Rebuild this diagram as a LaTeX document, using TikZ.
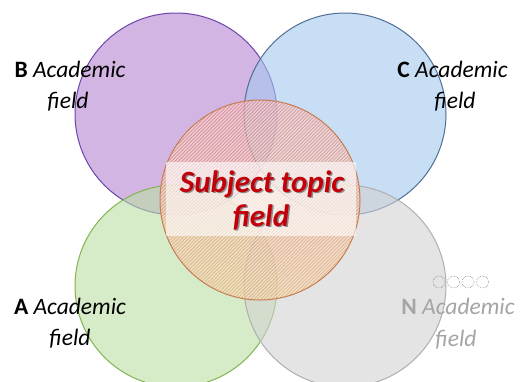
\documentclass[tikz,border=0pt]{standalone}
\usepackage{fontspec}
\setmainfont{Carlito}

\definecolor{fillB}{RGB}{183,133,210}
\definecolor{lineB}{RGB}{105,70,170}
\definecolor{fillC}{RGB}{163,200,238}
\definecolor{lineC}{RGB}{80,110,150}
\definecolor{fillA}{RGB}{188,222,163}
\definecolor{lineA}{RGB}{130,180,80}
\definecolor{fillN}{RGB}{210,210,210}
\definecolor{lineN}{RGB}{175,175,175}
\definecolor{hatchR}{RGB}{225,120,120}
\definecolor{hatchO}{RGB}{225,165,90}
\definecolor{lineR}{RGB}{200,125,85}
\definecolor{subjRed}{RGB}{195,0,10}
\definecolor{textN}{RGB}{165,165,165}

\begin{document}
\begin{tikzpicture}[x=1pt,y=-1pt]
				\tikzstyle{every node}=[align=center, inner sep=0pt, font=\fontsize{23.5}{28}\selectfont]
				\tikzstyle{field}=[fill opacity=0.6, line width=1pt]
				\tikzstyle{band}=[fill=white, fill opacity=0.6, minimum width=190pt, minimum height=74pt]
				\tikzstyle{subj}=[font=\fontsize{31}{36}\selectfont\bfseries\itshape, anchor=base]
				\tikzstyle{dotc}=[circle, draw=black!45, densely dotted, line width=0.6pt, minimum size=12pt]

				\useasboundingbox (0,0) rectangle (521,381);
				\fill[white] (0,0) rectangle (521,381);

				\filldraw[field, fill=fillB, draw=lineB] (176,114) circle (101);
				\filldraw[field, fill=fillC, draw=lineC] (345,114) circle (101);
				\filldraw[field, fill=fillA, draw=lineA] (176,286) circle (101);
				\filldraw[field, fill=fillN, draw=lineN] (345,286) circle (101);

				\begin{scope}
					\clip (260,200) circle (100);
					\shade[top color=hatchR, bottom color=hatchO, opacity=0.6] (160,100) rectangle (360,300);
					\foreach \k in {-220,-216.5,...,220}
						\draw[white, line width=1.1pt, opacity=0.55] (260+\k-115,315) -- (260+\k+115,85);
				\end{scope}
				\draw[line width=1pt, draw=lineR] (260,200) circle (100);

				\node[band] (band) at (261,199) {};

				\node[subj, text=black!45] (shad1) at (263.5,193.5) {Subject topic};
				\node[subj, text=black!45] (shad2) at (262.5,227.5) {field};
				\node[subj, text=subjRed] (subj1) at (262,192) {Subject topic};
				\node[subj, text=subjRed] (subj2) at (261,226) {field};

				\node[anchor=base] (B1) at (70,77) {\textbf{B} \textit{Academic}};
				\node[anchor=base] (B2) at (68,108) {\textit{field}};
				\node[anchor=base] (C1) at (452.5,77) {\textbf{C} \textit{Academic}};
				\node[anchor=base] (C2) at (455,108) {\textit{field}};
				\node[anchor=base] (A1) at (70,314) {\textbf{A} \textit{Academic}};
				\node[anchor=base] (A2) at (70,345) {\textit{field}};
				\node[anchor=base, text=textN] (N1) at (458,314) {\textbf{N} \textit{Academic}};
				\node[anchor=base, text=textN] (N2) at (456,346) {\textit{field}};

				\foreach \i/\x in {1/439,2/453.5,3/468,4/482.5}
					\node[dotc] (o\i) at (\x,282) {};

			\end{tikzpicture}
\end{document}
